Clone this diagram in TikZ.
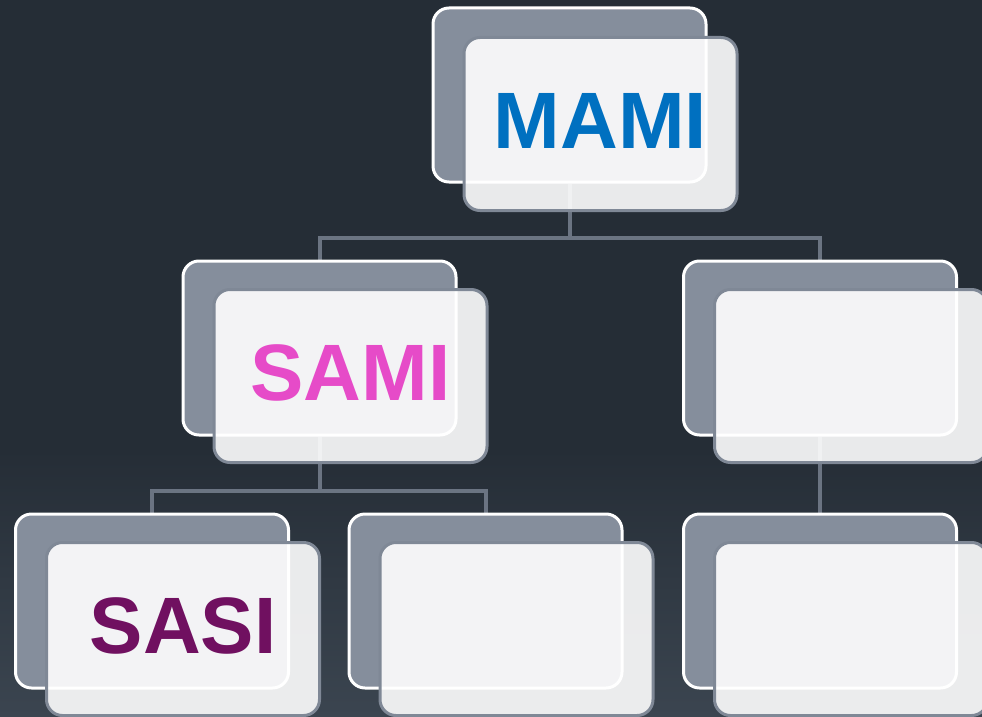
\documentclass[tikz,border=0pt]{standalone}
\usepackage{fontspec}
\setmainfont{Liberation Sans}
\usetikzlibrary{calc,positioning,backgrounds}
\definecolor{bgtop}{HTML}{252D36}
\definecolor{bgbot}{HTML}{3B4550}
\definecolor{cardgray}{HTML}{858E9C}
\definecolor{cardedge}{HTML}{7F8896}
\definecolor{linkgray}{HTML}{6B7482}
\definecolor{mamiblue}{HTML}{0070C0}
\definecolor{samipink}{HTML}{E64BC8}
\definecolor{sasipurple}{HTML}{701060}

\begin{document}
\begin{tikzpicture}[x=1pt,y=-1pt,
    backcard/.style={draw=white, fill=cardgray, line width=3pt, rounded corners=16pt,
        minimum width=273pt, minimum height=174pt, inner sep=0pt},
    frontcard/.style={draw=cardedge, fill=white, fill opacity=.9, text opacity=1,
        line width=3pt, rounded corners=16pt, minimum width=273pt, minimum height=173pt,
        inner sep=0pt, text depth=7pt, font=\fontsize{80}{80}\selectfont\bfseries},
    link/.style={draw=linkgray, line width=4pt}]
    \useasboundingbox (0,0) rectangle (982,717);
    % back cards
    \node[backcard] (mami) at (569.5,95) {};
    \node[backcard] (sami) at (319.5,348) {};
    \node[backcard] (rmid) at (820,348) {};
    \node[backcard] (sasi) at (152,601) {};
    \node[backcard] (bmid) at (485.5,601) {};
    \node[backcard] (rbot) at (820,601) {};
    % front cards
    \node[frontcard, text=mamiblue] (mamiF) at ($(mami)+(31,29)$) {MAMI};
    \node[frontcard, text=samipink] (samiF) at ($(sami)+(31,28)$) {SAMI};
    \node[frontcard] (rmidF) at ($(rmid)+(31,28)$) {};
    \node[frontcard, text=sasipurple] (sasiF) at ($(sasi)+(31,28)$) {SASI};
    \node[frontcard] (bmidF) at ($(bmid)+(31,28)$) {};
    \node[frontcard] (rbotF) at ($(rbot)+(31,28)$) {};
    % backdrop and links go under the cards
    \begin{pgfonlayer}{background}
        \fill[bgtop] (0,0) rectangle (982,450);
        \shade[top color=bgtop, bottom color=bgbot] (0,449) rectangle (982,717);
        \draw[link] (mami.south) -- ++(0,54) -| (sami.north);
        \draw[link] (mami.south) -- ++(0,54) -| (rmid.north);
        \draw[link] (sami.south) -- ++(0,54) -| (sasi.north);
        \draw[link] (sami.south) -- ++(0,54) -| (bmid.north);
        \draw[link] (rmid.south) -- (rbot.north);
    \end{pgfonlayer}
\end{tikzpicture}
\end{document}
